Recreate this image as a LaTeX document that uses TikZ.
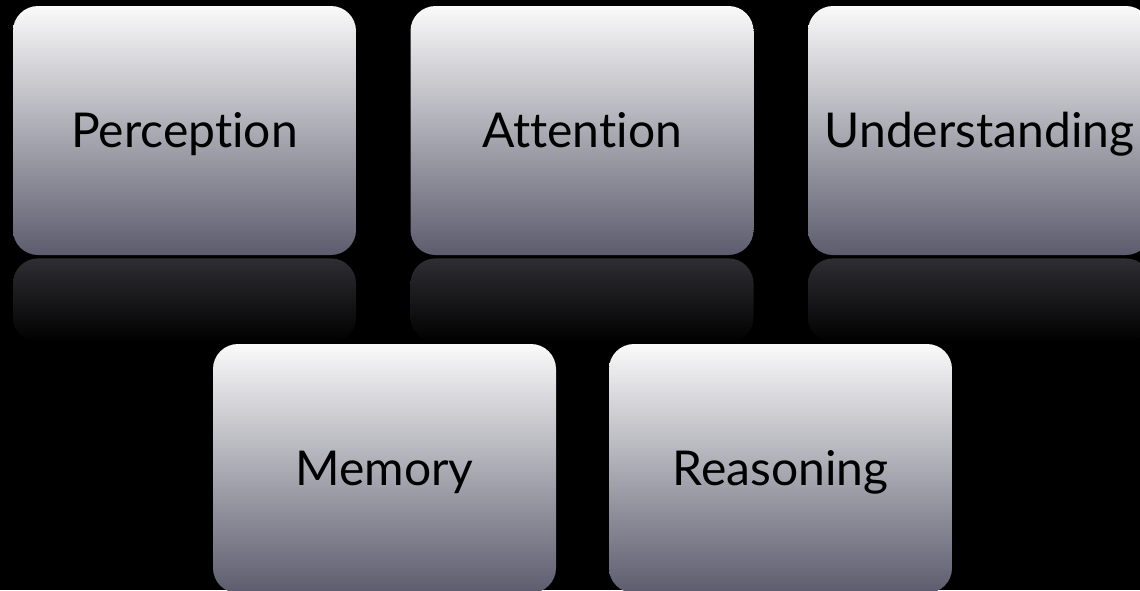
\documentclass[tikz,border=0pt]{standalone}
\usepackage{fontspec}
\setmainfont{Lato}[Ligatures=NoCommon]
\usetikzlibrary{positioning}
\definecolor{boxtop}{HTML}{FAFAFA}
\definecolor{boxmid}{HTML}{C2C2C8}
\definecolor{boxbot}{HTML}{5C5C6E}
\definecolor{refltop}{HTML}{2E2E33}

\begin{document}
\begin{tikzpicture}[
  x=1pt, y=-1pt,
  card/.style={rounded corners=25pt, minimum width=343pt, minimum height=249pt, inner sep=0pt,
    top color=boxtop, middle color=boxmid, bottom color=boxbot, text=black,
    text height=34pt, text depth=0pt, font=\fontsize{48}{56}\selectfont},
  refl/.style={rounded corners=25pt, minimum width=343pt, minimum height=84pt, inner sep=0pt,
    top color=refltop, bottom color=black},
]
\useasboundingbox (0,0) rectangle (1140,590);
\fill[black] (0,0) rectangle (1140,590);
\clip (0,0) rectangle (1140,590);

% Top row
\node[card] (perc) at (184.5,130.5) {Perception};
\node[card] (att) at (582,130.5) {Attention};
\node[card] (und) at (979.5,130.5) {Understanding};

% Reflections
\node[refl, below=3pt of perc] (perc-r) {};
\node[refl, below=3pt of att] (att-r) {};
\node[refl, below=3pt of und] (und-r) {};

% Bottom row
\node[card] (mem) at (384.5,468.5) {Memory};
\node[card] (reas) at (780.5,468.5) {Reasoning};
\end{tikzpicture}
\end{document}
